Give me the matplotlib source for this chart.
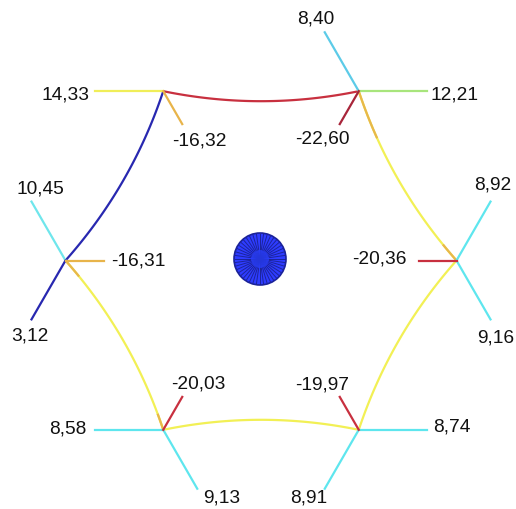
import numpy as np
import matplotlib
matplotlib.use("Agg")
import matplotlib.pyplot as plt
from matplotlib.patches import Circle

# ---- data ----
# spoke values per ring atom (atoms numbered counter-clockwise from the right-hand atom)
atom_ids = [0, 1, 2, 3, 4, 5]
spoke_atom = [0, 0, 0, 1, 1, 1, 2, 2, 3, 3, 3, 4, 4, 4, 5, 5, 5]
spoke_values = [8.92, 9.16, -20.36,
                8.40, 12.21, -22.60,
                14.33, -16.32,
                10.45, 3.12, -16.31,
                8.58, 9.13, -20.03,
                8.74, 8.91, -19.97]
spoke_labels = ["8,92", "9,16", "-20,36",
                "8,40", "12,21", "-22,60",
                "14,33", "-16,32",
                "10,45", "3,12", "-16,31",
                "8,58", "9,13", "-20,03",
                "8,74", "8,91", "-19,97"]
ring_bonds = [(0, 1), (1, 2), (2, 3), (3, 4), (4, 5), (5, 0)]

# ---- style / layout ----
spoke_angle = [60, -60, 180,
               120, 0, -120,
               180, -60,
               120, -120, 0,
               180, -60, 60,
               0, -120, 120]
# label centre offset from the spoke end (pixels, y downwards)
label_offset = [(2, -18), (5, 18), (-39, -2),
                (-9, -14), (28, 3), (-17, 14),
                (-30, 3), (17, 16),
                (9, -14), (-2, 16), (35, 0),
                (-27, -2), (24, 8), (16, -14),
                (25, -4), (-16, 8), (-18, -13)]
ring_colors = ["#f2f055", "#c8303f", "#2828b0", "#f2f055", "#f2f055", "#f2f055"]
# orange tint near the ends of some ring bonds (fraction near start, fraction near end)
ring_tint = [(0.10, 0.25), (0, 0), (0, 0), (0.10, 0.08), (0, 0), (0, 0)]
spoke_colors = ["#5ee6ee", "#5ee6ee", "#c8303f",
                "#5ccbe8", "#a8e57c", "#a8253a",
                "#f0ee58", "#e8b44a",
                "#6fe6ec", "#2828b0", "#e8b44a",
                "#5ee6ee", "#5ee6ee", "#c8303f",
                "#5ee6ee", "#5ee6ee", "#c8303f"]

W, H = 516, 510
fig = plt.figure(figsize=(W / 100, H / 100), dpi=100)
ax = fig.add_axes([0, 0, 1, 1])
ax.set_xlim(0, W)
ax.set_ylim(H, 0)
ax.axis("off")

cx, cy, R = 261.0, 261.5, 195.5
pos = {}
for a in atom_ids:
    th = np.deg2rad(60 * a)
    pos[a] = np.array([cx + R * np.cos(th), cy - R * np.sin(th)])

# curved ring bonds bowing toward the centre
t = np.linspace(0, 1, 101)[:, None]
for (i, j), col, (f0, f1) in zip(ring_bonds, ring_colors, ring_tint):
    p0, p2 = pos[i], pos[j]
    mid = (p0 + p2) / 2
    d = np.array([cx, cy]) - mid
    d /= np.linalg.norm(d)
    p1 = mid + d * 20
    pts = (1 - t) ** 2 * p0 + 2 * (1 - t) * t * p1 + t ** 2 * p2
    ax.plot(pts[:, 0], pts[:, 1], color=col, lw=1.6, solid_capstyle="round", zorder=2)
    if f0 > 0:
        n = int(f0 * 100) + 1
        ax.plot(pts[:n, 0], pts[:n, 1], color="#e8b84a", lw=1.6, zorder=2.5)
    if f1 > 0:
        n = int(f1 * 100) + 1
        ax.plot(pts[-n:, 0], pts[-n:, 1], color="#e8b84a", lw=1.6, zorder=2.5)

font = dict(family=["Liberation Sans", "DejaVu Sans"], fontsize=13.8, color="#111111")
for a, v, lab, ang, col, (dx, dy) in zip(spoke_atom, spoke_values, spoke_labels,
                                         spoke_angle, spoke_colors, label_offset):
    length = 38 if v < 0 else 68
    th = np.deg2rad(ang)
    u = np.array([np.cos(th), -np.sin(th)])
    p0 = pos[a]
    p1 = p0 + u * length
    ax.plot([p0[0], p1[0]], [p0[1], p1[1]], color=col, lw=1.6, zorder=3)
    ax.text(p1[0] + dx, p1[1] + dy, lab, ha="center", va="center", **font)

# central wheel
wx, wy = 260.0, 260.0
ax.add_patch(Circle((wx, wy), 26, facecolor="#2e3cff", edgecolor="#1c2399", lw=1.2, zorder=4))
for k in range(44):
    th = 2 * np.pi * k / 44
    ax.plot([wx, wx + 25 * np.cos(th)], [wy, wy + 25 * np.sin(th)],
            color="#18208a", lw=0.7, alpha=0.85, zorder=5)
ax.add_patch(Circle((wx, wy), 9, facecolor="#2a40ff", edgecolor="none", alpha=0.7, zorder=6))

fig.savefig("out.png", dpi=100, facecolor="white")
